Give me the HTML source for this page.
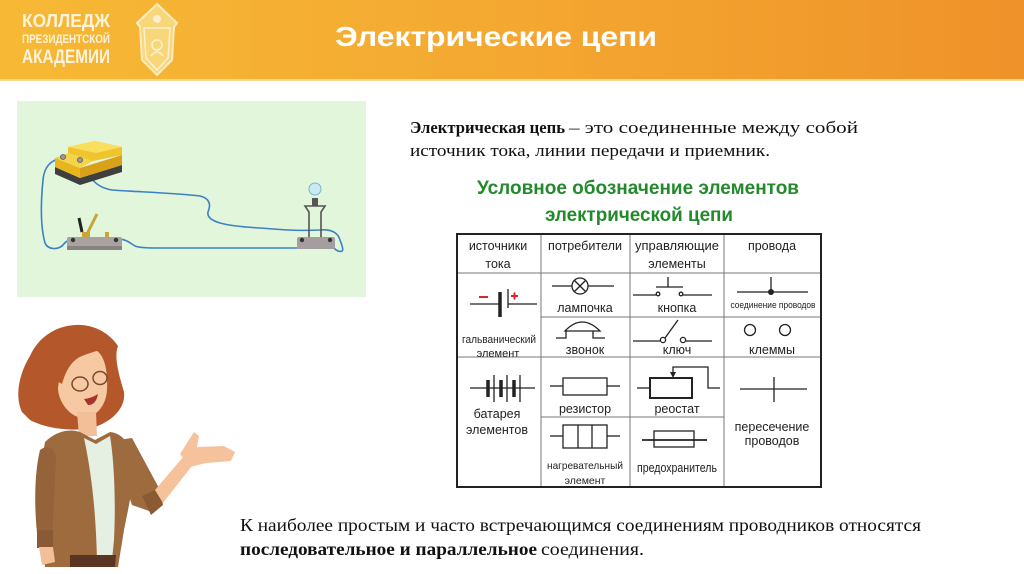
<!DOCTYPE html>
<html><head><meta charset="utf-8"><style>
html,body{margin:0;padding:0;background:#fff;width:1024px;height:574px;overflow:hidden}
svg{display:block}
.s{font-family:"Liberation Sans",Arial,sans-serif}
.t{font-family:"Liberation Serif","Times New Roman",serif}
</style></head><body>
<svg width="1024" height="574" viewBox="0 0 1024 574" xmlns="http://www.w3.org/2000/svg">
<defs>
<linearGradient id="hg" x1="0" x2="1" y1="0" y2="0">
<stop offset="0" stop-color="#f6b935"/><stop offset="0.5" stop-color="#f4a831"/><stop offset="1" stop-color="#ef9229"/>
</linearGradient>
</defs>
<rect x="0" y="0" width="1024" height="80" fill="url(#hg)"/>
<rect x="0" y="79" width="1024" height="2" fill="#f9d98e"/>

<!-- logo -->
<g class="s" fill="#fdf3dc" font-weight="bold">
<text x="22" y="27" font-size="18" textLength="88" lengthAdjust="spacingAndGlyphs">КОЛЛЕДЖ</text>
<text x="22" y="43" font-size="12" textLength="88" lengthAdjust="spacingAndGlyphs">ПРЕЗИДЕНТСКОЙ</text>
<text x="22" y="63" font-size="19" textLength="88" lengthAdjust="spacingAndGlyphs">АКАДЕМИИ</text>
</g>
<path d="M137,23 L157,4 L177,23 L174,27 L172,60 L157,75 L142,60 L140,27 Z" fill="#f8d67a" stroke="#fbecc0" stroke-width="2"/>
<path d="M144,28 L170,28 L168,58 L157,70 L146,58 Z" fill="none" stroke="#fdf0cc" stroke-width="1.5"/>
<circle cx="157" cy="45" r="5" fill="none" stroke="#fdf0cc" stroke-width="1.5"/>
<path d="M151,56 Q157,48 163,56" fill="none" stroke="#fdf0cc" stroke-width="1.5"/>
<circle cx="157" cy="19" r="4" fill="#fdf0cc"/>

<text x="335" y="46" class="s" font-size="28" font-weight="bold" fill="#fff" textLength="322" lengthAdjust="spacingAndGlyphs">Электрические цепи</text>

<!-- circuit illustration -->
<rect x="17" y="101" width="349" height="196" fill="#e2f6dc"/>
<g fill="none" stroke="#3d80c4" stroke-width="1.6" stroke-linecap="round">
<path d="M62,158 C50,160 44,168 43,180 C41,200 40,225 45,243 C48,250 58,250 63,245 C66,241 70,239 73,239"/>
<path d="M88,172 C92,182 100,188 112,190 C140,192 175,193 200,196 C212,199 210,207 208,212 C206,222 225,226 260,228 C285,230 300,231 320,230 C332,229 338,233 340,240 C343,248 345,253 338,251 C334,249 332,246 330,244"/>
<path d="M118,239 C126,239 130,243 135,246 C140,248 150,248 160,248 L297,248"/>
</g>
<!-- battery -->
<polygon points="55,167 80,178 122,165 122,172 80,185 55,174" fill="#3f3f3f"/>
<polygon points="55,158 80,168 80,178 55,167" fill="#e9b51e"/>
<polygon points="80,168 122,155 122,165 80,178" fill="#d9a117"/>
<polygon points="55,158 68,153 93,161 80,168" fill="#f6d44a"/>
<polygon points="68,147 95,141 122,147 122,155 93,161 68,153" fill="#f0c42c"/>
<polygon points="68,147 95,141 122,147 96,153" fill="#f9df5c"/>
<circle cx="63" cy="157" r="2.5" fill="#999" stroke="#555" stroke-width="0.8"/>
<circle cx="80" cy="160" r="2.5" fill="#999" stroke="#555" stroke-width="0.8"/>
<!-- switch -->
<rect x="67" y="237" width="55" height="13" rx="2" fill="#aaa1a1"/>
<rect x="67" y="246" width="55" height="4" fill="#8a8282"/>
<circle cx="73" cy="240" r="2.2" fill="#333"/>
<circle cx="116" cy="240" r="2.2" fill="#333"/>
<line x1="86" y1="236" x2="97" y2="214" stroke="#c9a53a" stroke-width="3"/>
<line x1="79" y1="218" x2="82" y2="232" stroke="#222" stroke-width="3"/>
<rect x="82" y="232" width="8" height="6" fill="#c9a53a"/>
<rect x="105" y="232" width="4" height="6" fill="#c9a53a"/>
<!-- lamp -->
<rect x="297" y="237" width="38" height="12" rx="2" fill="#a59e9e"/>
<circle cx="302" cy="240" r="2.2" fill="#333"/>
<circle cx="330" cy="240" r="2.2" fill="#333"/>
<path d="M309,237 L309,212 L305,206 L325,206 L321,212 L321,237" fill="none" stroke="#555" stroke-width="1.6"/>
<rect x="312" y="198" width="6" height="8" fill="#555"/>
<circle cx="315" cy="189" r="6" fill="#c7ecf5" stroke="#7fb3c3" stroke-width="1"/>

<!-- definition text -->
<g class="t" fill="#111" font-size="17">
<text x="410" y="133" font-weight="bold" textLength="155" lengthAdjust="spacingAndGlyphs">Электрическая цепь</text>
<text x="569" y="133" textLength="289" lengthAdjust="spacingAndGlyphs">– это соединенные между собой</text>
<text x="410" y="156" textLength="360" lengthAdjust="spacingAndGlyphs">источник тока, линии передачи и приемник.</text>
</g>
<g class="s" fill="#238a2b" font-weight="bold" font-size="19">
<text x="477" y="194" textLength="322" lengthAdjust="spacingAndGlyphs">Условное обозначение элементов</text>
<text x="545" y="221" textLength="188" lengthAdjust="spacingAndGlyphs">электрической цепи</text>
</g>

<!-- table -->
<g stroke="#777" stroke-width="1" fill="none">
<line x1="541" y1="234" x2="541" y2="487"/>
<line x1="630" y1="234" x2="630" y2="487"/>
<line x1="724" y1="234" x2="724" y2="487"/>
<line x1="457" y1="273" x2="821" y2="273"/>
<line x1="541" y1="317" x2="821" y2="317"/>
<line x1="457" y1="357" x2="821" y2="357"/>
<line x1="541" y1="417" x2="724" y2="417"/>
</g>
<rect x="457" y="234" width="364" height="253" fill="none" stroke="#222" stroke-width="2"/>

<g class="s" fill="#222" font-size="12.5" text-anchor="middle">
<text x="498" y="250">источники</text>
<text x="498" y="268">тока</text>
<text x="585" y="250" textLength="74" lengthAdjust="spacingAndGlyphs">потребители</text>
<text x="677" y="250" textLength="84" lengthAdjust="spacingAndGlyphs">управляющие</text>
<text x="677" y="268">элементы</text>
<text x="772" y="250">провода</text>
<text x="585" y="312">лампочка</text>
<text x="677" y="312">кнопка</text>
<text x="773" y="308" font-size="9.5" textLength="85" lengthAdjust="spacingAndGlyphs">соединение проводов</text>
<text x="499" y="343" font-size="11" textLength="74" lengthAdjust="spacingAndGlyphs">гальванический</text>
<text x="498" y="357" font-size="11">элемент</text>
<text x="585" y="354">звонок</text>
<text x="677" y="354">ключ</text>
<text x="772" y="354">клеммы</text>
<text x="497" y="418">батарея</text>
<text x="497" y="434">элементов</text>
<text x="585" y="413">резистор</text>
<text x="677" y="413">реостат</text>
<text x="772" y="431">пересечение</text>
<text x="772" y="445">проводов</text>
<text x="585" y="469" font-size="10.5" textLength="76" lengthAdjust="spacingAndGlyphs">нагревательный</text>
<text x="585" y="484" font-size="10.5">элемент</text>
<text x="677" y="472" textLength="80" lengthAdjust="spacingAndGlyphs">предохранитель</text>
</g>

<g stroke="#222" stroke-width="1.3" fill="none">
<!-- galvanic -->
<line x1="470" y1="304" x2="499" y2="304"/>
<line x1="500" y1="292" x2="500" y2="317" stroke-width="3.5"/>
<line x1="508" y1="289" x2="508" y2="308"/>
<line x1="508" y1="304" x2="537" y2="304"/>
<!-- lamp -->
<line x1="552" y1="286" x2="572" y2="286"/>
<line x1="588" y1="286" x2="614" y2="286"/>
<circle cx="580" cy="286" r="8"/>
<line x1="574.5" y1="280.5" x2="585.5" y2="291.5"/>
<line x1="585.5" y1="280.5" x2="574.5" y2="291.5"/>
<!-- button -->
<line x1="668" y1="277" x2="668" y2="287"/>
<line x1="656" y1="287" x2="683" y2="287"/>
<line x1="633" y1="295" x2="656" y2="295"/>
<circle cx="658" cy="294" r="1.8"/>
<circle cx="681" cy="294" r="1.8"/>
<line x1="683" y1="295" x2="712" y2="295"/>
<!-- bell -->
<path d="M565,331 Q582,313 600,331 Z"/>
<path d="M556,338 L566,338 L566,331"/>
<path d="M593,331 L593,338 L605,338"/>
<!-- key -->
<line x1="633" y1="341" x2="660" y2="341"/>
<circle cx="663" cy="340" r="2.6"/>
<line x1="665" y1="338" x2="678" y2="320"/>
<circle cx="683" cy="340" r="2.6"/>
<line x1="686" y1="341" x2="712" y2="341"/>
<!-- junction -->
<line x1="737" y1="292" x2="808" y2="292"/>
<line x1="771" y1="277" x2="771" y2="292"/>
<!-- terminals -->
<circle cx="750" cy="330" r="5.5"/>
<circle cx="785" cy="330" r="5.5"/>
<!-- battery -->
<line x1="470" y1="388" x2="535" y2="388"/>
<line x1="488" y1="380" x2="488" y2="397" stroke-width="3.5"/>
<line x1="501" y1="380" x2="501" y2="397" stroke-width="3.5"/>
<line x1="514" y1="380" x2="514" y2="397" stroke-width="3.5"/>
<line x1="494" y1="375" x2="494" y2="402"/>
<line x1="507" y1="375" x2="507" y2="402"/>
<line x1="520" y1="375" x2="520" y2="402"/>
<!-- resistor -->
<rect x="563" y="378" width="44" height="17"/>
<line x1="550" y1="386" x2="563" y2="386"/>
<line x1="607" y1="386" x2="620" y2="386"/>
<!-- rheostat -->
<rect x="650" y="378" width="42" height="20" stroke-width="2"/>
<line x1="637" y1="388" x2="650" y2="388"/>
<path d="M673,374 L673,367 L708,367 L708,388 L720,388"/>
<!-- heater -->
<rect x="563" y="425" width="44" height="23"/>
<line x1="578" y1="425" x2="578" y2="448"/>
<line x1="592" y1="425" x2="592" y2="448"/>
<line x1="550" y1="436" x2="563" y2="436"/>
<line x1="607" y1="436" x2="620" y2="436"/>
<!-- fuse -->
<rect x="654" y="431" width="40" height="16"/>
<line x1="642" y1="440" x2="707" y2="440" stroke-width="1.8"/>
<!-- crossing -->
<line x1="740" y1="389" x2="807" y2="389"/>
<line x1="774" y1="377" x2="774" y2="402"/>
</g>
<circle cx="771" cy="292" r="3" fill="#222"/>
<polygon points="670,372 676,372 673,378" fill="#222"/>
<line x1="479" y1="297" x2="488" y2="297" stroke="#d8262a" stroke-width="2"/>
<line x1="511" y1="296" x2="518" y2="296" stroke="#d8262a" stroke-width="2"/>
<line x1="514.5" y1="292.5" x2="514.5" y2="299.5" stroke="#d8262a" stroke-width="2"/>

<!-- woman -->
<path d="M22,412 C14,395 20,372 30,356 C38,338 55,326 75,325 C95,324 110,334 118,346 C114,356 118,372 124,392 C126,408 112,422 92,428 C70,432 45,428 30,420 Z" fill="#b4572b"/>
<path d="M60,372 C60,356 72,347 90,348 C104,350 108,368 107,390 C106,406 96,418 82,418 C68,416 58,400 58,388 Z" fill="#f6c9a3"/>
<path d="M55,380 C54,358 66,340 88,337 C102,336 112,342 118,348 C104,348 92,352 82,356 C72,360 66,370 62,384 Z" fill="#b4572b"/>
<ellipse cx="80" cy="384" rx="8" ry="7" fill="none" stroke="#7a4a30" stroke-width="1.5"/>
<ellipse cx="100" cy="378" rx="7" ry="6.5" fill="none" stroke="#7a4a30" stroke-width="1.5"/>
<path d="M84,399 Q92,398 98,394 Q96,405 88,405 Z" fill="#a8322e"/>
<path d="M77,412 L96,412 L97,436 L79,436 Z" fill="#f2bf98"/>
<path d="M45,442 C55,432 68,428 80,432 L95,440 L110,432 C120,433 128,440 132,455 C136,475 130,500 124,530 L118,567 L45,567 C42,540 38,500 40,470 Z" fill="#9e6b3f"/>
<path d="M84,438 L96,444 L110,436 C114,460 116,500 114,540 L112,560 L97,560 C96,520 93,480 84,438 Z" fill="#e5efe2"/>
<path d="M40,450 C48,444 56,448 56,460 L52,540 L38,542 C34,510 34,475 40,450 Z" fill="#95633a"/>
<rect x="37" y="530" width="16" height="18" fill="#8a5a34"/>
<path d="M39,547 L53,547 L55,562 L42,565 Z" fill="#f2bf98"/>
<path d="M70,555 L116,555 L115,567 L70,567 Z" fill="#5a3622"/>
<path d="M118,440 L132,438 L160,490 L152,512 L132,505 L120,470 Z" fill="#9e6b3f"/>
<polygon points="142,496 160,488 163,505 151,515" fill="#8a5a34"/>
<path d="M155,490 L184,456 L195,462 L163,503 Z" fill="#f5c29c"/>
<path d="M180,454 L194,432 L199,436 L197,447 L224,446 L235,452 L231,461 L206,463 L190,467 Z" fill="#f5c29c"/>

<!-- bottom text -->
<g class="t" fill="#111" font-size="18">
<text x="240" y="531" textLength="681" lengthAdjust="spacingAndGlyphs">К наиболее простым и часто встречающимся соединениям проводников относятся</text>
<text x="240" y="555" font-weight="bold" textLength="297" lengthAdjust="spacingAndGlyphs">последовательное и параллельное</text>
<text x="541" y="555" textLength="103" lengthAdjust="spacingAndGlyphs">соединения.</text>
</g>
</svg>
</body></html>
